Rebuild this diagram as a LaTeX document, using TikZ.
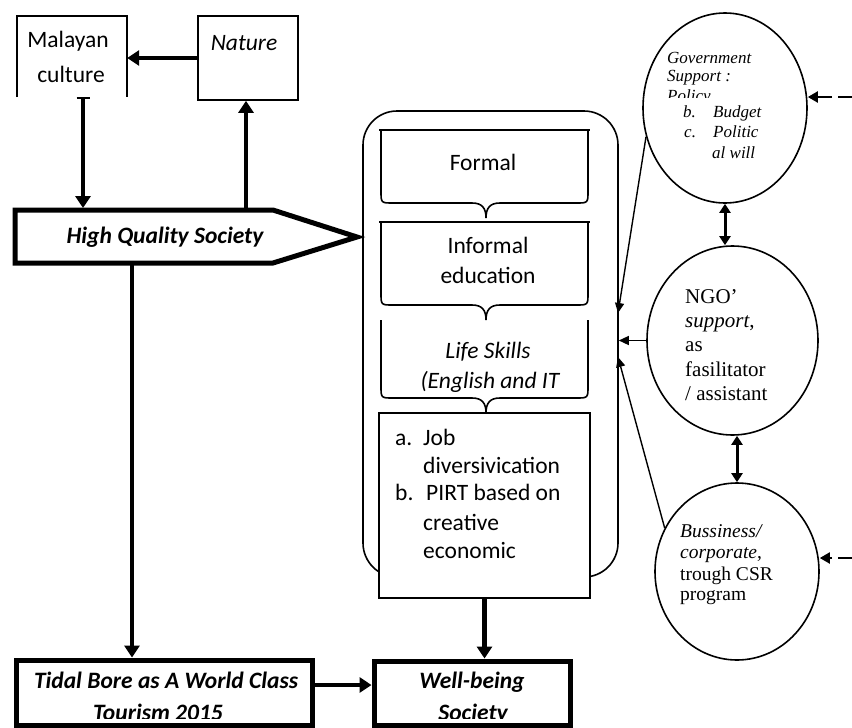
\documentclass[tikz,border=0pt]{standalone}
\usepackage{fontspec}
\setmainfont{Carlito}
\newfontfamily\tms{Liberation Serif}
\usetikzlibrary{arrows.meta,shapes.geometric}
\begin{document}
\begin{tikzpicture}[x=1pt,y=-1pt,
  thinline/.style={line width=1.6pt},
  boldline/.style={line width=5pt},
  bigarrow/.style={line width=4.5pt,-{Triangle[length=12pt,width=15pt]}},
  smallarrow/.style={line width=1.4pt,-{Triangle[length=10pt,width=9pt]}},
  midarrow/.style={line width=3pt,{Triangle[length=9pt,width=11pt]}-{Triangle[length=9pt,width=11pt]}},
  dasharrow/.style={line width=2pt,dash pattern=on 14pt off 6pt,-{Triangle[length=10pt,width=11pt]}},
  sans/.style={font=\fontsize{23.5}{28}\selectfont},
  sansit/.style={font=\fontsize{23.5}{28}\selectfont\itshape},
  sansbi/.style={font=\fontsize{23.5}{28}\selectfont\bfseries\itshape},
  govf/.style={font=\tms\fontsize{17}{20}\selectfont\itshape},
  ngof/.style={font=\tms\fontsize{21}{24}\selectfont},
  busf/.style={font=\tms\fontsize{19.5}{22}\selectfont},
  tb/.style={anchor=base, inner sep=0pt},
  tl/.style={anchor=base west, inner sep=0pt},
  ell/.style={draw, ellipse, thinline, inner sep=0pt}
]
\fill[white] (0,0) rectangle (852,728);
\useasboundingbox (0,0) rectangle (852,728);

% ---- Malayan culture and Nature
\node[minimum width=110pt, minimum height=81pt, inner sep=0pt] (mc) at (72,56.5) {};
\draw[thinline] (mc.south west) -- (mc.north west) -- (mc.north east) -- (mc.south east);
\node[sans,tb] (mc1) at (68,47) {Malayan};
\node[sans,tb] (mc2) at (71,82) {culture};

\node[draw, thinline, minimum width=100pt, minimum height=84pt, inner sep=0pt] (nat) at (248,58) {};
\node[sansit,tb] (natt) at (244,50) {Nature};

\draw[bigarrow] (nat.west) -- (nat.west -| mc.east);

% ---- High Quality Society
\draw[boldline, line join=miter] (15,210) -- (273,210) -- (357,237) -- (273,263) -- (15,263) -- cycle;
\node[sansbi,tb] (hqs) at (165,243) {High Quality Society};
\coordinate (h1) at (83,208);
\coordinate (h2) at (246,208);
\coordinate (h3) at (132,265);

\draw[line width=4.5pt, {Bar[width=13pt,line width=2pt]}-{Triangle[length=12pt,width=15pt]}] (mc.south -| h1) -- (h1);
\draw[bigarrow] (h2) -- (h2 |- nat.south);

% ---- Bottom boxes
\node[draw, boldline, minimum width=296pt, minimum height=65pt, inner sep=0pt] (tid) at (164,692.5) {};
\node[draw, boldline, minimum width=196pt, minimum height=64pt, inner sep=0pt] (wel) at (472,693) {};
\node[sansbi,tb] (t1) at (166,688) {Tidal Bore as A World Class};
\node[sansbi,tb] (w1) at (472,688) {Well-being};
\begin{scope}
  \clip (20,695) rectangle (560,718);
  \node[sansbi,tb] (t2) at (158,720) {Tourism 2015};
  \node[sansbi,tb] (w2) at (473,720) {Society};
\end{scope}

\draw[bigarrow] (h3) -- (h3 |- tid.north);
\coordinate (ta) at ([yshift=7.5pt]tid.east);
\draw[bigarrow] (ta) -- (ta -| wel.west);

% ---- Education block
\node[draw, thinline, rounded corners=34pt, minimum width=255pt, minimum height=466pt, inner sep=0pt] (edu) at (490.5,344) {};

\draw[line width=2pt] (379,130) -- (590,130);
\draw[thinline] (381,130) -- (381,191) .. controls (381,203) .. (393,203) -- (472,203)
  .. controls (482,203) and (486,208) .. (486,218) .. controls (486,208) and (490,203) .. (500,203)
  -- (576,203) .. controls (588,203) .. (588,191) -- (588,130);
\node[sans,tb] (f1) at (483,170) {Formal};

\draw[line width=2pt] (379,222) -- (590,222);
\draw[thinline] (381,222) -- (381,293) .. controls (381,305) .. (393,305) -- (472,305)
  .. controls (482,305) and (486,310) .. (486,320) .. controls (486,310) and (490,305) .. (500,305)
  -- (576,305) .. controls (588,305) .. (588,293) -- (588,222);
\node[sans,tb] (i1) at (488,253) {Informal};
\node[sans,tb] (i2) at (488,283) {education};

\draw[thinline] (381,320) -- (381,386) .. controls (381,398) .. (393,398) -- (472,398)
  .. controls (482,398) and (486,403) .. (486,413) .. controls (486,403) and (490,398) .. (500,398)
  -- (576,398) .. controls (588,398) .. (588,386) -- (588,320);
\node[sansit,tb] (l1) at (488,358) {Life Skills};
\node[sansit,tb] (l2) at (490,388) {(English and IT};

\node[draw, thinline, fill=white, minimum width=211pt, minimum height=185pt, inner sep=0pt] (lst) at (484.5,505.5) {};
\node[sans,tl] (a1) at (395,445) {a.};
\node[sans,tl] (a2) at (423,445) {Job};
\node[sans,tl] (a3) at (423,473) {diversivication};
\node[sans,tl] (b1) at (395,500) {b.};
\node[sans,tl] (b2) at (426,500) {PIRT based on};
\node[sans,tl] (b3) at (423,530) {creative};
\node[sans,tl] (b4) at (423,558) {economic};

\draw[bigarrow] (lst.south) -- (lst.south |- wel.north);

% ---- Support ellipses
\node[ell, minimum width=164pt, minimum height=190pt] (gov) at (725,108) {};
\node[ell, minimum width=171pt, minimum height=189pt] (ngo) at (732.5,340.5) {};
\node[ell, minimum width=164pt, minimum height=177pt] (bus) at (737,571.5) {};

\node[govf,tl] (g1) at (667,63) {Government};
\node[govf,tl] (g2) at (667,81) {Support :};
\begin{scope}
  \clip (640,80) rectangle (780,97);
  \node[govf,tl] (g3) at (667,101) {Policy};
\end{scope}
\node[govf,tl] (g4a) at (683,117) {b.};
\node[govf,tl] (g4b) at (713,117) {Budget};
\node[govf,tl] (g5a) at (684,137) {c.};
\node[govf,tl] (g5b) at (713,137) {Politic};
\node[govf,tl] (g6) at (712,158) {al will};

\node[ngof,tl] (n1) at (685,303) {NGO’};
\node[ngof,tl] (n2) at (685,327) {\textit{support},};
\node[ngof,tl] (n3) at (685,351) {as};
\node[ngof,tl] (n4) at (685,376) {fasilitator};
\node[ngof,tl] (n5) at (685,400) {/ assistant};

\node[busf,tl] (u1) at (680,537) {\textit{Bussiness/}};
\node[busf,tl] (u2) at (680,558) {\textit{corporate},};
\node[busf,tl] (u3) at (680,580) {trough CSR};
\node[busf,tl] (u4) at (680,600) {program};

% ---- connectors to education block
\coordinate (e1) at (618,313);
\coordinate (e3) at (618,357);
\draw[smallarrow] (gov.200) -- (e1);
\draw[smallarrow] (ngo.west) -- (ngo.west -| edu.east);
\draw[smallarrow] (bus.149) -- (e3);

\draw[midarrow] (gov.south) -- (gov.south |- ngo.north);
\draw[midarrow] (bus.north |- ngo.south) -- (bus.north);

\coordinate (gin) at (852,97);
\draw[dasharrow] (gin) -- (gin -| gov.east);
\coordinate (bin) at (852,558);
\draw[dasharrow] (bin) -- (bin -| bus.east);
\end{tikzpicture}
\end{document}
